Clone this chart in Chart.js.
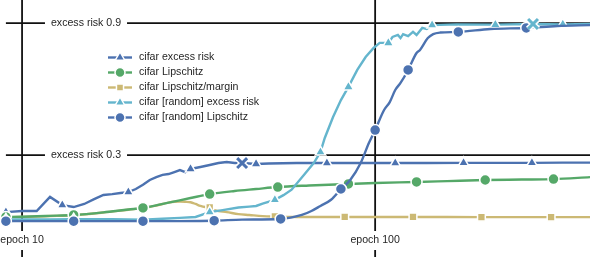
<!DOCTYPE html>
<html>
<head>
<meta charset="utf-8">
<script src="https://cdn.jsdelivr.net/npm/chart.js@4/dist/chart.umd.min.js"></script>
<style>
  body { margin: 0; background: #fff; }
  #wrap { width: 590px; height: 257px; position: relative; }
</style>
</head>
<body>
<div id="wrap"><canvas id="risk"></canvas></div>
<script>
// values (x = epoch, log scale; y = risk / Lipschitz)
const excessEpochs = [9,10,11,12,13,14,15,16,17,18,19,20,21,22,23,24,25,26,27,28,29,30,32,34,36,38,40,42,46,50,60,73,90,114,140,178,220,278,340,406];
const excessVals   = [0.041,0.046,0.046,0.110,0.073,0.064,0.078,0.100,0.119,0.123,0.128,0.132,0.146,0.165,0.187,0.200,0.210,0.214,0.223,0.232,0.223,0.237,0.246,0.255,0.264,0.269,0.264,0.264,0.260,0.262,0.264,0.264,0.264,0.264,0.264,0.265,0.265,0.265,0.266,0.266];
const excessMarks  = [9,13,20,30,46,73,114,178,278];

const lipEpochs = [9,10,12,14,17,20,22,26,30,34,40,46,53,65,84,100,131,160,205,260,320,406];
const lipVals   = [0.019,0.020,0.024,0.028,0.040,0.053,0.060,0.084,0.105,0.123,0.137,0.146,0.155,0.162,0.169,0.173,0.178,0.182,0.187,0.189,0.191,0.200];
const lipMarks  = [9,14,22,34,53,84,131,205,320];

const marginEpochs = [9,10,12,14,17,20,22,24,26,27,28,29,30,31,32,33,34,35,36,38,41,44,48,52,60,82,100,128,200,315,406];
const marginVals   = [0.018,0.019,0.023,0.027,0.039,0.052,0.059,0.071,0.084,0.088,0.089,0.088,0.086,0.078,0.069,0.064,0.062,0.050,0.046,0.041,0.032,0.028,0.023,0.021,0.019,0.019,0.019,0.019,0.018,0.018,0.018];
const marginMarks  = [9,14,22,34,52,82,128,200,315];

const rndExcessEpochs = [9,12,14,18,22,25,28,31,34,37,41,44,46,48,52,55,58,63,67,70,72,76,80,84,89,94,99,103,106,109,112,116,118,120,124,128,131,136,140,145,170,219,280,340,406];
const rndExcessVals   = [0.008,0.008,0.009,0.009,0.006,0.011,0.015,0.019,0.041,0.050,0.062,0.066,0.069,0.080,0.097,0.118,0.143,0.212,0.264,0.314,0.378,0.473,0.550,0.610,0.687,0.746,0.787,0.810,0.810,0.810,0.837,0.846,0.832,0.850,0.841,0.860,0.846,0.878,0.873,0.891,0.894,0.893,0.896,0.894,0.896];
const rndExcessMarks  = [9,14,22,34,52,70,84,109,145,219,340];

const rndLipEpochs = [9,14,22,35,42,54,62,66,70,75,80,85,91,96,100,106,110,114,118,124,131,134,141,146,153,172,212,268,328,406];
const rndLipVals   = [0.000,0.000,0.000,0.002,0.007,0.010,0.028,0.046,0.069,0.097,0.146,0.187,0.264,0.355,0.414,0.505,0.541,0.596,0.628,0.687,0.764,0.778,0.832,0.850,0.857,0.860,0.873,0.878,0.887,0.891];
const rndLipMarks  = [9,14,22,35,54,80,100,124,172,268];

// the two "x" marks
const crossExcess = [{x: 42, y: 0.264}];
const crossRndExcess = [{x: 280, y: 0.896}];

// reference lines
const epochLines = [10, 100];
const epochLabels = ['epoch 10', 'epoch 100'];
const riskLines = [0.3, 0.9];
const riskLabels = ['excess risk 0.3', 'excess risk 0.9'];

const BLUE = '#4C72B0', GREEN = '#55A868', TAN = '#CCB974', CYAN = '#64B5CD';
const FONT = '10.6px "Liberation Sans", Arial, Helvetica, sans-serif';

function series(label, epochs, vals, marks, color, style, order, smooth) {
    return {
        label: label,
        data: epochs.map((e, i) => ({x: e, y: vals[i]})),
        borderColor: color,
        backgroundColor: color,
        borderWidth: 2.4,
        pointStyle: style,
        pointRadius: c => (c.raw && marks.includes(c.raw.x)) ? (style === 'triangle' ? 6 : 5.5) : 0,
        pointHoverRadius: 0,
        pointBackgroundColor: color,
        pointBorderColor: '#fff',
        pointBorderWidth: 1.5,
        cubicInterpolationMode: smooth ? 'monotone' : 'default',
        order: order,
        clip: false
    };
}

function cross(data, color, width, order) {
    return {
        label: '',
        data: data,
        showLine: false,
        pointStyle: 'crossRot',
        pointRadius: 7,
        pointBorderWidth: width,
        pointBorderColor: color,
        borderColor: color,
        order: order,
        clip: false
    };
}

function drawMarker(ctx, style, x, y, r, color) {
    ctx.beginPath();
    if (style === 'circle') {
        ctx.arc(x, y, r, 0, Math.PI * 2);
    } else if (style === 'triangle') {
        ctx.moveTo(x, y - r);
        ctx.lineTo(x + 0.866 * r, y + 0.5 * r);
        ctx.lineTo(x - 0.866 * r, y + 0.5 * r);
    } else {
        const s = r * Math.SQRT1_2;
        ctx.rect(x - s, y - s, 2 * s, 2 * s);
    }
    ctx.closePath();
    ctx.fillStyle = color;
    ctx.fill();
    ctx.strokeStyle = '#fff';
    ctx.lineWidth = 1.5;
    ctx.stroke();
}

const refLines = {
    id: 'refLines',
    beforeDatasetsDraw(chart) {
        const {ctx, scales: {x, y}, chartArea} = chart;
        ctx.save();
        ctx.strokeStyle = '#111';
        ctx.lineWidth = 1.8;
        const x0 = x.getPixelForValue(excessEpochs[0]);
        riskLines.forEach(v => {
            const py = y.getPixelForValue(v);
            ctx.beginPath();
            ctx.moveTo(x0, py);
            ctx.lineTo(chartArea.right, py);
            ctx.stroke();
        });
        epochLines.forEach(v => {
            const px = x.getPixelForValue(v);
            ctx.beginPath();
            ctx.moveTo(px, chartArea.top);
            ctx.lineTo(px, chartArea.bottom);
            ctx.stroke();
        });
        ctx.font = FONT;
        ctx.textAlign = 'center';
        ctx.textBaseline = 'middle';
        riskLines.forEach((v, i) => {
            const py = y.getPixelForValue(v);
            const w = ctx.measureText(riskLabels[i]).width + 12;
            ctx.fillStyle = '#fff';
            ctx.fillRect(86 - w / 2, py - 7, w, 14);
            ctx.fillStyle = '#262626';
            ctx.fillText(riskLabels[i], 86, py);
        });
        epochLines.forEach((v, i) => {
            const px = x.getPixelForValue(v);
            const w = ctx.measureText(epochLabels[i]).width + 4;
            ctx.fillStyle = '#fff';
            ctx.fillRect(px - w / 2, 231, w, 19);
            ctx.fillStyle = '#262626';
            ctx.fillText(epochLabels[i], px, 240);
        });
        ctx.restore();
    }
};

const legendBox = {
    id: 'legendBox',
    afterDraw(chart) {
        const ctx = chart.ctx;
        ctx.save();
        ctx.font = FONT;
        ctx.textAlign = 'left';
        ctx.textBaseline = 'middle';
        chart.data.datasets.filter(d => d.label).forEach((d, i) => {
            const yy = 57.5 + i * 15;
            ctx.strokeStyle = d.borderColor;
            ctx.lineWidth = 2.4;
            ctx.beginPath();
            ctx.moveTo(108, yy);
            ctx.lineTo(132, yy);
            ctx.stroke();
            drawMarker(ctx, d.pointStyle, 120, yy, d.pointStyle === 'triangle' ? 5.5 : 5, d.borderColor);
            ctx.fillStyle = '#262626';
            ctx.fillText(d.label, 139, yy);
        });
        ctx.restore();
    }
};

new Chart(document.getElementById('risk').getContext('2d'), {
    type: 'line',
    data: {
        datasets: [
            series('cifar excess risk', excessEpochs, excessVals, excessMarks, BLUE, 'triangle', 5, false),
            series('cifar Lipschitz', lipEpochs, lipVals, lipMarks, GREEN, 'circle', 4, true),
            series('cifar Lipschitz/margin', marginEpochs, marginVals, marginMarks, TAN, 'rect', 6, true),
            series('cifar [random] excess risk', rndExcessEpochs, rndExcessVals, rndExcessMarks, CYAN, 'triangle', 3, false),
            series('cifar [random] Lipschitz', rndLipEpochs, rndLipVals, rndLipMarks, BLUE, 'circle', 2, true),
            cross(crossExcess, '#fff', 6, 1.5),
            cross(crossExcess, BLUE, 3, 1.4),
            cross(crossRndExcess, '#fff', 6, 1),
            cross(crossRndExcess, CYAN, 3, 0.9)
        ]
    },
    options: {
        responsive: true,
        maintainAspectRatio: false,
        animation: false,
        layout: { padding: 0, autoPadding: false },
        plugins: { legend: { display: false }, tooltip: { enabled: false } },
        scales: {
            x: { type: 'logarithmic', min: 8.66, max: 406, display: false },
            y: { type: 'linear', min: -0.163, max: 1.005, display: false }
        }
    },
    plugins: [refLines, legendBox]
});
</script>
</body>
</html>
